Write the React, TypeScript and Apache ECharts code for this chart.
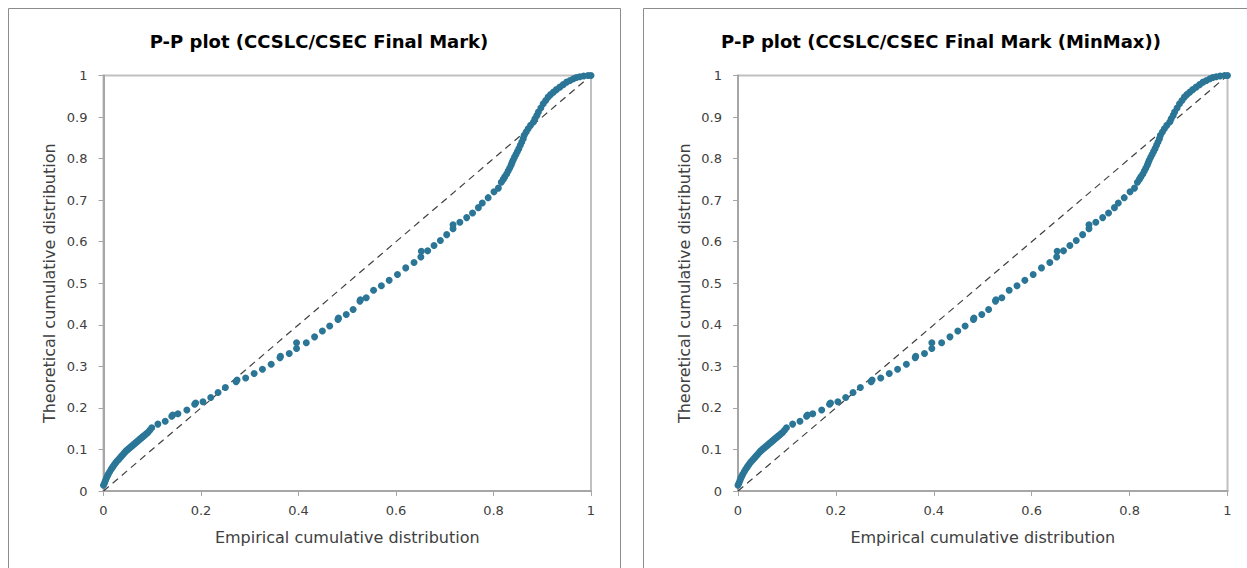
import React, { useEffect, useRef } from "react";
import * as echarts from "echarts";

const titles = ["P-P plot (CCSLC/CSEC Final Mark)", "P-P plot (CCSLC/CSEC Final Mark (MinMax))"];
const xAxisName = "Empirical cumulative distribution";
const yAxisName = "Theoretical cumulative distribution";

// Empirical cumulative distribution (x) and theoretical cumulative distribution (y)
const empirical = [
  0.0, 0.002, 0.004, 0.006, 0.008, 0.01, 0.013, 0.016, 0.019, 0.022, 0.025, 0.028, 0.031, 0.034, 0.037,
  0.04, 0.043, 0.046, 0.049, 0.052, 0.055, 0.058, 0.061, 0.064, 0.067, 0.07, 0.073, 0.076, 0.079, 0.082,
  0.085, 0.088, 0.091, 0.095, 0.099,
  0.1116, 0.1266, 0.14, 0.142, 0.1527, 0.171, 0.187, 0.189, 0.204, 0.22, 0.235, 0.25, 0.272, 0.274, 0.2916,
  0.309, 0.326, 0.344, 0.362, 0.363, 0.381, 0.396, 0.396, 0.416, 0.433, 0.449, 0.464, 0.481, 0.482, 0.498,
  0.512, 0.526, 0.527, 0.539, 0.554, 0.57, 0.586, 0.603, 0.62, 0.637, 0.651, 0.652, 0.665, 0.678, 0.691,
  0.704, 0.717, 0.717, 0.731, 0.745, 0.757, 0.769, 0.777, 0.789, 0.801, 0.81,
  0.816, 0.82, 0.823, 0.827, 0.83, 0.833, 0.836, 0.838, 0.84, 0.843, 0.846, 0.849, 0.852, 0.855, 0.858,
  0.861, 0.863, 0.867, 0.871, 0.876, 0.882, 0.885, 0.889, 0.892, 0.897, 0.902, 0.907, 0.912, 0.917, 0.923,
  0.929, 0.936, 0.943, 0.95, 0.957, 0.964, 0.97, 0.977, 0.985, 0.994, 1.0,
];
const theoretical = [
  0.014, 0.019, 0.025, 0.031, 0.036, 0.041, 0.047, 0.053, 0.058, 0.063, 0.068, 0.072, 0.076, 0.08, 0.084,
  0.088, 0.092, 0.096, 0.099, 0.102, 0.105, 0.108, 0.111, 0.114, 0.117, 0.12, 0.123, 0.126, 0.129, 0.132,
  0.135, 0.138, 0.141, 0.146, 0.152,
  0.161, 0.168, 0.18, 0.183, 0.186, 0.195, 0.209, 0.212, 0.215, 0.225, 0.237, 0.249, 0.263, 0.267, 0.272,
  0.283, 0.293, 0.305, 0.321, 0.324, 0.331, 0.343, 0.357, 0.357, 0.371, 0.385, 0.397, 0.413, 0.416, 0.425,
  0.437, 0.457, 0.46, 0.465, 0.483, 0.494, 0.507, 0.521, 0.537, 0.55, 0.563, 0.577, 0.578, 0.591, 0.603,
  0.617, 0.631, 0.641, 0.647, 0.658, 0.669, 0.682, 0.693, 0.706, 0.72, 0.729,
  0.743, 0.75, 0.756, 0.763, 0.77, 0.777, 0.784, 0.79, 0.796, 0.803, 0.81, 0.817, 0.824, 0.832, 0.84,
  0.848, 0.856, 0.864, 0.872, 0.88, 0.888, 0.896, 0.904, 0.912, 0.922, 0.932, 0.94, 0.948, 0.954, 0.96,
  0.966, 0.972, 0.978, 0.984, 0.988, 0.992, 0.995, 0.997, 0.999, 1.0, 1.0,
];
const referenceLine = [
  [0, 0],
  [1, 1],
];

const FONT = "'DejaVu Sans', Verdana, sans-serif";
const DOT = "#2b7697";

export default function App() {
  const ref = useRef<HTMLDivElement>(null);
  useEffect(() => {
    if (!ref.current) return;
    const chart = echarts.init(ref.current, undefined, { renderer: "svg" });
    const points = empirical.map((x, i) => [x, theoretical[i]]);
    const grids = [
      { left: 103.5, right: 656, top: 75.5, bottom: 77 },
      { left: 738, right: 19.5, top: 75.5, bottom: 77 },
    ];
    const xAxes = grids.map((_, i) => ({
      type: "value",
      gridIndex: i,
      min: 0,
      max: 1,
      interval: 0.2,
      name: xAxisName,
      nameLocation: "middle",
      nameGap: 38,
      nameTextStyle: { fontFamily: FONT, fontSize: 16, color: "#404040" },
      axisLine: { show: true, lineStyle: { color: "#a6a6a6", width: 2 } },
      axisTick: { show: true, length: 5, lineStyle: { color: "#a6a6a6", width: 1 } },
      axisLabel: { fontFamily: FONT, fontSize: 13, color: "#404040", margin: 13 },
      splitLine: { show: false },
    }));
    const yAxes = grids.map((_, i) => ({
      type: "value",
      gridIndex: i,
      min: 0,
      max: 1,
      interval: 0.1,
      name: yAxisName,
      nameLocation: "middle",
      nameGap: 46,
      nameTextStyle: { fontFamily: FONT, fontSize: 16, color: "#404040" },
      axisLine: { show: true, lineStyle: { color: "#a6a6a6", width: 2 } },
      axisTick: { show: true, length: 5, lineStyle: { color: "#a6a6a6", width: 1 } },
      axisLabel: { fontFamily: FONT, fontSize: 13, color: "#404040", margin: 16 },
      splitLine: { show: false },
    }));
    const series: any[] = [];
    grids.forEach((_, i) => {
      series.push({
        type: "line",
        xAxisIndex: i,
        yAxisIndex: i,
        data: referenceLine,
        symbol: "none",
        lineStyle: { color: "#404040", width: 1.2, type: [7, 5] },
        z: 2,
      });
      series.push({
        type: "scatter",
        xAxisIndex: i,
        yAxisIndex: i,
        data: points,
        symbolSize: 7,
        itemStyle: { color: DOT, opacity: 1 },
        z: 3,
      });
    });
    chart.setOption({
      animation: false,
      backgroundColor: "#ffffff",
      title: [
        {
          text: titles[0],
          left: 314,
          top: 27,
          textAlign: "center",
          textStyle: { fontFamily: FONT, fontSize: 18, fontWeight: "bold", color: "#000" },
        },
        {
          text: titles[1],
          left: 936,
          top: 27,
          textAlign: "center",
          textStyle: { fontFamily: FONT, fontSize: 18, fontWeight: "bold", color: "#000" },
        },
      ],
      graphic: [
        {
          type: "rect",
          shape: { x: 8.5, y: 8.5, width: 612, height: 620 },
          style: { fill: "none", stroke: "#8c8c8c", lineWidth: 1 },
          z: 0,
        },
        {
          type: "rect",
          shape: { x: 643.5, y: 8.5, width: 700, height: 620 },
          style: { fill: "none", stroke: "#8c8c8c", lineWidth: 1 },
          z: 0,
        },
      ],
      grid: grids.map((g) => ({
        ...g,
        show: true,
        borderColor: "#c0c0c0",
        borderWidth: 2,
        backgroundColor: "transparent",
      })),
      xAxis: xAxes,
      yAxis: yAxes,
      series,
    });
    return () => chart.dispose();
  }, []);
  return <div ref={ref} style={{ width: 1247, height: 568, position: "absolute", left: 0, top: 0 }} />;
}
